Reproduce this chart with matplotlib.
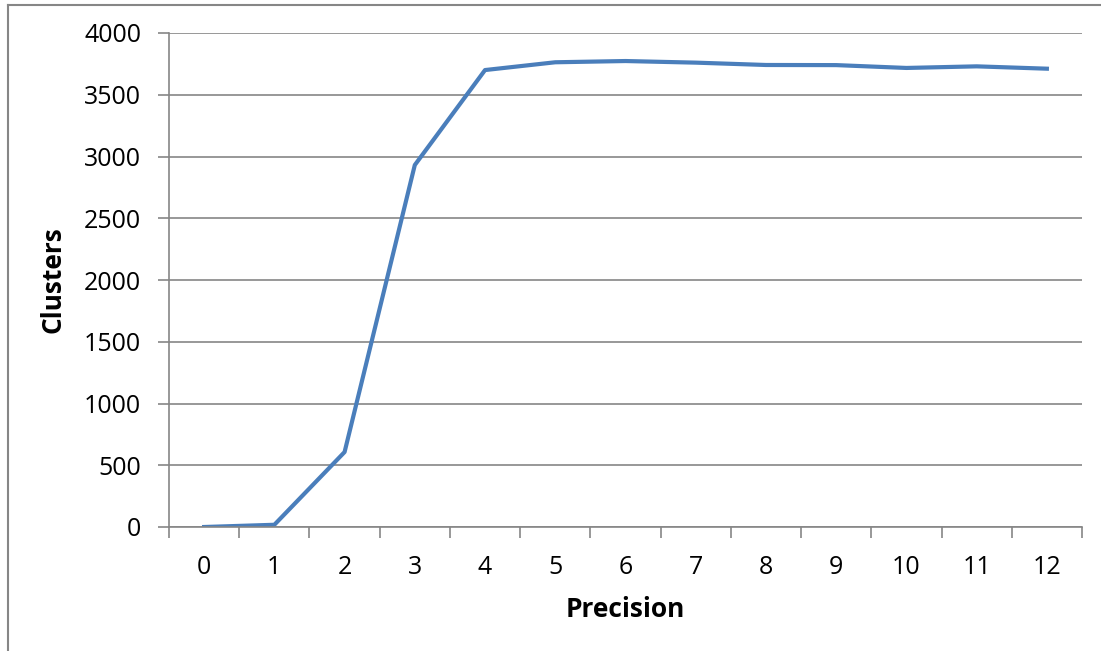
import matplotlib.pyplot as plt
from matplotlib.lines import Line2D
import numpy as np

precision = list(range(13))
clusters = [0, 18, 607, 2931, 3700, 3763, 3773, 3760, 3741, 3740, 3717, 3730, 3711]

plt.rcParams['font.family'] = ['Open Sans', 'DejaVu Sans']

fig = plt.figure(figsize=(11.01, 6.51), dpi=100)
W, H = 1101, 651
ax = fig.add_axes([169 / W, 1 - 527 / H, (1082 - 169) / W, (527 - 33) / H])

grid_col = '#868686'
ax.plot(precision, clusters, color='#4A7EBB', lw=3, solid_joinstyle='round')

ax.set_xlim(-0.5, 12.5)
ax.set_ylim(0, 4000)
ax.set_yticks(np.arange(0, 4001, 500))
ax.yaxis.grid(True, color=grid_col, lw=1.2)
ax.set_axisbelow(True)

ax.set_xticks(precision)
ax.set_xticks(np.arange(-0.5, 13, 1), minor=True)
ax.tick_params(axis='x', which='major', length=0, pad=20, labelsize=18)
ax.tick_params(axis='x', which='minor', length=8, width=1.2, color=grid_col)
ax.tick_params(axis='y', length=8, width=1.2, color=grid_col, pad=12, labelsize=18)

for side in ('top', 'right'):
    ax.spines[side].set_visible(False)
for side in ('left', 'bottom'):
    ax.spines[side].set_color(grid_col)
    ax.spines[side].set_linewidth(1.2)

ax.set_xlabel('Precision', fontsize=19, fontweight='bold', labelpad=12)
ax.set_ylabel('Clusters', fontsize=19, fontweight='bold', labelpad=13)

# chart area border
fig.add_artist(Line2D([7.5 / W, 7.5 / W], [0, 1 - 4.5 / H], transform=fig.transFigure,
                      color=grid_col, lw=1.5))
fig.add_artist(Line2D([7.5 / W, 1], [1 - 4.5 / H, 1 - 4.5 / H], transform=fig.transFigure,
                      color=grid_col, lw=1.5))

fig.savefig('out.png', dpi=100)
